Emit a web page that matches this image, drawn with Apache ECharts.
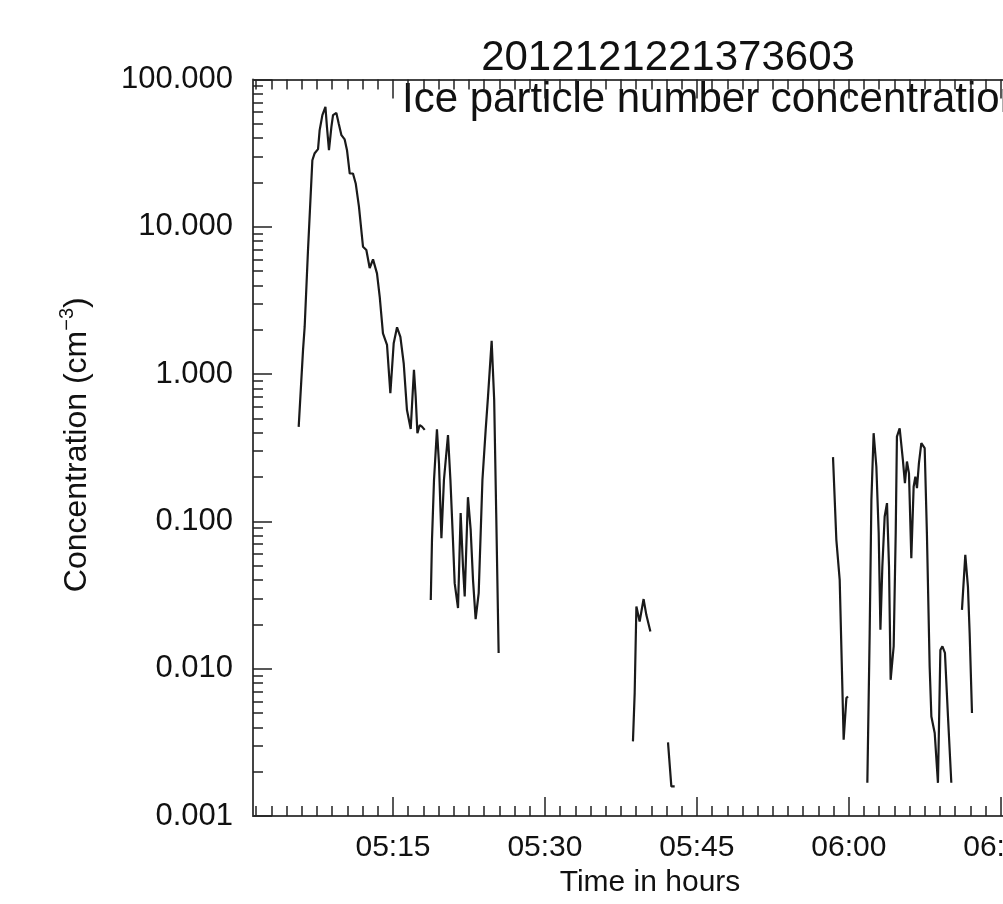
<!DOCTYPE html>
<html><head><meta charset="utf-8">
<script src="https://cdn.jsdelivr.net/npm/echarts@6/dist/echarts.min.js"></script>
<style>html,body{margin:0;padding:0;overflow:hidden;background:#fff;} #c{width:1160px;height:904px;}</style>
</head><body><div id="c"></div>
<script>
// ---- texts ----
const titleText = '2012121221373603';
const noteText = 'Ice particle number concentration';
const xName = 'Time in hours';
// ---- ticks (minutes after 05:00 for x) ----
const xMajorMinutes = [15, 30, 45, 60, 75];
const xMinorMinutes = [1.5,3,4.5,6,7.5,9,10.5,12,13.5,16.5,18,19.5,21,22.5,24,25.5,27,28.5,31.5,33,34.5,36,37.5,39,40.5,42,43.5,46.5,48,49.5,51,52.5,54,55.5,57,58.5,61.5,63,64.5,66,67.5,69,70.5,72,73.5,76.5,78,79.5,81,82.5];
const yMinorValues = [0.002,0.003,0.004,0.005,0.006,0.007,0.008,0.009,0.02,0.03,0.04,0.05,0.06,0.07,0.08,0.09,0.2,0.3,0.4,0.5,0.6,0.7,0.8,0.9,2,3,4,5,6,7,8,9,20,30,40,50,60,70,80,90];
// ---- data segments (minutes after 05:00, concentration cm^-3) ----
const seg1Min = [5.69,6.12,6.28,6.61,7.04,7.27,7.60,7.76,8.03,8.33,8.48,8.68,8.92,9.08,9.41,9.64,9.91,10.23,10.46,10.73,10.89,11.05,11.32,11.64,12.04,12.37,12.70,13.03,13.42,13.69,14.01,14.41,14.74,15.07,15.40,15.73,16.06,16.38,16.75,17.07,17.24,17.41,17.64,17.86,18.13];
const seg1Val = [0.438,1.46,2.09,6.95,28.3,31.6,33.7,45.3,57.3,65.2,47.7,33.1,47.7,57.3,59.3,50.3,41.9,39.2,33.1,23.0,23.6,23.0,19.7,13.7,7.32,6.95,5.25,6.01,4.83,3.35,1.89,1.58,0.741,1.62,2.08,1.79,1.18,0.570,0.424,1.07,0.703,0.397,0.451,0.440,0.418];
const seg2Min = [18.73,18.85,19.05,19.34,19.54,19.78,20.03,20.43,20.67,20.92,21.09,21.42,21.68,21.91,22.08,22.40,22.67,22.90,23.16,23.46,23.83,24.15,24.38,24.74,24.99,25.19,25.43];
const seg2Val = [0.0293,0.0748,0.191,0.422,0.248,0.0769,0.191,0.386,0.191,0.0748,0.0381,0.0258,0.114,0.0493,0.0309,0.146,0.0875,0.0401,0.0217,0.0326,0.191,0.418,0.703,1.68,0.667,0.114,0.0128];
const seg3Min = [38.69,38.86,39.03,39.35,39.74,40.01,40.41];
const seg3Val = [0.00321,0.00683,0.0264,0.0209,0.0297,0.0232,0.0179];
const seg4Min = [42.15,42.48,42.81];
const seg4Val = [0.00316,0.00159,0.00159];
const seg5Min = [58.44,58.77,59.10,59.49,59.76,59.92];
const seg5Val = [0.273,0.0749,0.0401,0.0033,0.00632,0.00648];
const seg6Min = [61.83,62.06,62.23,62.45,62.72,62.95,63.12,63.31,63.54,63.77,63.97,64.13,64.43,64.63,64.75,65.02,65.34,65.54,65.74,65.94,66.17,66.40,66.57,66.73,66.92,67.16,67.49,67.71,67.98,68.15,68.48,68.80,69.04,69.24,69.49,69.79,70.12];
const seg6Val = [0.00168,0.0174,0.140,0.397,0.235,0.0832,0.0184,0.0493,0.108,0.133,0.0493,0.0084,0.0142,0.0832,0.376,0.429,0.261,0.182,0.255,0.212,0.0563,0.172,0.201,0.168,0.248,0.340,0.314,0.0832,0.0104,0.00474,0.00366,0.00168,0.0134,0.0142,0.0128,0.00474,0.00168];
const seg7Min = [71.17,71.50,71.76,71.93,72.16];
const seg7Val = [0.0251,0.0593,0.0361,0.0174,0.0050];

const segments = [[seg1Min,seg1Val],[seg2Min,seg2Val],[seg3Min,seg3Val],[seg4Min,seg4Val],[seg5Min,seg5Val],[seg6Min,seg6Val],[seg7Min,seg7Val]];

const FONT = 'Liberation Sans, Arial, Helvetica, sans-serif';
const X_MIN = 1.18, X_MAX = 83.12;
const pad = n => (n < 10 ? '0' : '') + n;
const fmtTime = m => { const t = 5*60 + Math.round(m); return pad(Math.floor(t/60)) + ':' + pad(t%60); };

const axisCol = '#444';
function xAx(pos, ticks, len, showLine, showLabel) {
  return {
    type: 'value', position: pos, min: X_MIN, max: X_MAX,
    axisLine: {show: showLine, onZero: false, lineStyle: {color: axisCol, width: 2}},
    axisTick: {show: true, inside: true, length: len, customValues: ticks, lineStyle: {color: '#222', width: 1.5}},
    axisLabel: {show: showLabel, customValues: ticks, formatter: fmtTime, fontFamily: FONT, fontSize: 30, color: '#111', margin: 17},
    splitLine: {show: false}
  };
}

const chart = echarts.init(document.getElementById('c'), null, {renderer: 'canvas'});
const option = {
  animation: false,
  backgroundColor: '#fff',
  grid: {left: 253, top: 79.5, right: 77, bottom: 88, containLabel: false},
  xAxis: [
    Object.assign(xAx('bottom', xMajorMinutes, 19, true, true), {
      name: xName, nameLocation: 'middle', nameGap: 52,
      nameTextStyle: {fontFamily: FONT, fontSize: 30, color: '#111', padding: [0, 36, 0, 0]}
    }),
    xAx('bottom', xMinorMinutes, 10, false, false),
    xAx('top', xMajorMinutes, 19, true, false),
    xAx('top', xMinorMinutes, 10, false, false)
  ],
  yAxis: [
    {
      type: 'log', logBase: 10, min: 0.001, max: 100, position: 'left',
      axisLine: {show: true, onZero: false, lineStyle: {color: axisCol, width: 2}},
      axisTick: {show: true, inside: true, length: 19, lineStyle: {color: '#222', width: 1.5}},
      axisLabel: {formatter: v => Number(v).toFixed(3), fontFamily: FONT, fontSize: 31, color: '#111', margin: 20},
      splitLine: {show: false},
      name: '{a|Concentration (cm}{s|−3}{a|)}', nameLocation: 'middle', nameRotate: 90, nameGap: 156,
      nameTextStyle: {padding: [0, 0, 0, 6], rich: {a: {fontFamily: FONT, fontSize: 32, color: '#111'}, s: {fontFamily: FONT, fontSize: 20, color: '#111', padding: [0,0,20,0]}}}
    },
    {
      type: 'log', logBase: 10, min: 0.001, max: 100, position: 'left',
      axisLine: {show: false},
      axisTick: {show: true, inside: true, length: 10, customValues: yMinorValues, lineStyle: {color: '#222', width: 1.5}},
      axisLabel: {show: false},
      splitLine: {show: false}
    }
  ],
  graphic: [
    {type: 'text', x: 668, y: 58, style: {text: titleText, fontFamily: FONT, fontSize: 42, fill: '#111', align: 'center', verticalAlign: 'middle'}},
    {type: 'text', x: 402, y: 100, style: {text: noteText, fontFamily: FONT, fontSize: 42, fill: '#111', align: 'left', verticalAlign: 'middle'}}
  ],
  series: segments.map(s => ({
    type: 'line', xAxisIndex: 0, yAxisIndex: 0, symbol: 'none', smooth: false,
    lineStyle: {color: '#1a1a1a', width: 2.2},
    data: s[0].map((m, i) => [m, s[1][i]])
  }))
};
chart.setOption(option);
</script></body></html>
